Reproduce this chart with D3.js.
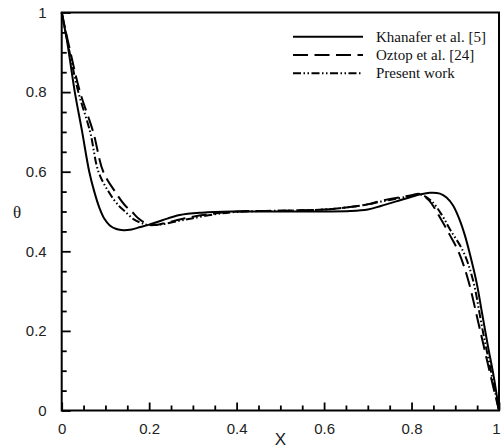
<!DOCTYPE html>
<html>
<head>
<meta charset="utf-8">
<script src="https://cdn.jsdelivr.net/npm/d3@7"></script>
<style>
  html, body { margin: 0; padding: 0; background: #fff; }
  svg { display: block; }
</style>
</head>
<body>
<script>
// Temperature profile θ along X for three studies
const khanaferX = [0, 0.012, 0.03, 0.046, 0.063, 0.075, 0.086, 0.098, 0.11, 0.125, 0.141, 0.16, 0.18, 0.2, 0.23, 0.27, 0.32, 0.39, 0.5, 0.6, 0.66, 0.7, 0.73, 0.77, 0.8, 0.82, 0.842, 0.865, 0.88, 0.895, 0.91, 0.922, 0.933, 0.949, 0.962, 0.975, 0.988, 1.0];
const khanaferY = [1.0, 0.93, 0.80, 0.705, 0.60, 0.548, 0.51, 0.481, 0.465, 0.456, 0.453, 0.455, 0.461, 0.467, 0.478, 0.491, 0.497, 0.500, 0.500, 0.500, 0.501, 0.505, 0.514, 0.527, 0.537, 0.543, 0.547, 0.545, 0.535, 0.515, 0.479, 0.44, 0.395, 0.32, 0.24, 0.16, 0.085, 0.0];

const oztopX = [0, 0.02, 0.042, 0.072, 0.095, 0.122, 0.145, 0.16, 0.175, 0.19, 0.21, 0.24, 0.27, 0.3, 0.35, 0.4, 0.5, 0.6, 0.65, 0.7, 0.73, 0.77, 0.8, 0.819, 0.84, 0.865, 0.888, 0.907, 0.929, 0.956, 0.983, 1.0];
const oztopY = [1.0, 0.90, 0.80, 0.70, 0.60, 0.55, 0.515, 0.50, 0.483, 0.472, 0.466, 0.472, 0.48, 0.487, 0.495, 0.500, 0.502, 0.505, 0.510, 0.518, 0.527, 0.535, 0.541, 0.544, 0.528, 0.485, 0.44, 0.40, 0.33, 0.205, 0.077, 0.0];

const presentX = [0, 0.02, 0.038, 0.065, 0.084, 0.107, 0.13, 0.145, 0.165, 0.185, 0.2, 0.23, 0.27, 0.3, 0.35, 0.4, 0.5, 0.6, 0.65, 0.7, 0.73, 0.77, 0.8, 0.82, 0.845, 0.87, 0.888, 0.918, 0.94, 0.962, 0.985, 1.0];
const presentY = [1.0, 0.89, 0.80, 0.70, 0.60, 0.55, 0.515, 0.50, 0.48, 0.47, 0.466, 0.468, 0.477, 0.483, 0.493, 0.499, 0.502, 0.505, 0.51, 0.518, 0.525, 0.533, 0.539, 0.543, 0.527, 0.49, 0.455, 0.40, 0.33, 0.205, 0.08, 0.0];

const seriesNames = ["Khanafer et al. [5]", "Oztop et al. [24]", "Present work"];
const tickLabels = ["0", "0.2", "0.4", "0.6", "0.8", "1"];
const majorTicks = [0, 0.2, 0.4, 0.6, 0.8, 1];
const minorTicks = d3.range(0, 1.0001, 0.05).filter(v => Math.abs(v * 5 - Math.round(v * 5)) > 1e-6);

const W = 502, H = 448;
const margin = { left: 61.7, right: 3, top: 12.5, bottom: 37.5 };

const svg = d3.select("body").append("svg").attr("width", W).attr("height", H);

const x = d3.scaleLinear().domain([0, 1]).range([margin.left, W - margin.right]);
const y = d3.scaleLinear().domain([0, 1]).range([H - margin.bottom, margin.top]);

const series = [
  { name: seriesNames[0], xs: khanaferX, ys: khanaferY, dash: null },
  { name: seriesNames[1], xs: oztopX, ys: oztopY, dash: "15 6.5" },
  { name: seriesNames[2], xs: presentX, ys: presentY, dash: "8 2.5 1.5 2.5 1.5 2.5" }
];

const line = d3.line()
  .x(d => x(d[0]))
  .y(d => y(d[1]))
  .curve(d3.curveCatmullRom.alpha(0.5));

const plot = svg.append("g");
series.forEach(s => {
  plot.append("path")
    .datum(s.xs.map((v, i) => [v, s.ys[i]]))
    .attr("d", line)
    .attr("fill", "none")
    .attr("stroke", "#000")
    .attr("stroke-width", 2)
    .attr("stroke-dasharray", s.dash);
});

// Axes with inward major and minor ticks
const tickFmt = d => tickLabels[majorTicks.findIndex(t => Math.abs(t - d) < 1e-9)];

const xMajor = d3.axisBottom(x).tickValues(majorTicks).tickSizeInner(-8).tickSizeOuter(0).tickPadding(13).tickFormat(tickFmt);
const xMinor = d3.axisBottom(x).tickValues(minorTicks).tickSizeInner(-5).tickSizeOuter(0).tickFormat("");
const yMajor = d3.axisLeft(y).tickValues(majorTicks).tickSizeInner(-9).tickSizeOuter(0).tickPadding(15).tickFormat(tickFmt);
const yMinor = d3.axisLeft(y).tickValues(minorTicks).tickSizeInner(-5).tickSizeOuter(0).tickFormat("");

function styleAxis(g) {
  g.select(".domain").remove();
  g.selectAll(".tick line").attr("stroke", "#000").attr("stroke-width", 1.8);
  g.selectAll(".tick text")
    .attr("font-family", "'Liberation Sans', Arial, sans-serif")
    .attr("font-size", 15)
    .attr("fill", "#222");
}

const yBase = y(0);
svg.append("g").attr("transform", `translate(0,${yBase})`).call(xMinor).call(styleAxis);
const xg = svg.append("g").attr("transform", `translate(0,${yBase})`).call(xMajor).call(styleAxis);
// keep the last label inside the page edge
xg.selectAll(".tick text").filter(d => d === 1).attr("dx", -3);
svg.append("g").attr("transform", `translate(${x(0)},0)`).call(yMinor).call(styleAxis);
svg.append("g").attr("transform", `translate(${x(0)},0)`).call(yMajor).call(styleAxis);

// Plot frame
svg.append("rect")
  .attr("x", x(0)).attr("y", y(1))
  .attr("width", x(1) - x(0)).attr("height", y(0) - y(1))
  .attr("fill", "none").attr("stroke", "#000").attr("stroke-width", 2);

// Axis titles
svg.append("text")
  .attr("x", (x(0) + x(1)) / 2).attr("y", 445)
  .attr("text-anchor", "middle")
  .attr("font-family", "'Liberation Sans', Arial, sans-serif")
  .attr("font-size", 17)
  .attr("fill", "#222")
  .text("X");

svg.append("text")
  .attr("x", 17).attr("y", (y(0) + y(1)) / 2 + 6)
  .attr("text-anchor", "middle")
  .attr("font-family", "'Liberation Serif', 'Times New Roman', serif")
  .attr("font-size", 17)
  .attr("fill", "#222")
  .text("θ");

// Legend
const legend = svg.append("g");
series.forEach((s, i) => {
  const cy = 36.7 + i * 18.3;
  legend.append("line")
    .attr("x1", 293).attr("x2", 363)
    .attr("y1", cy).attr("y2", cy)
    .attr("stroke", "#000").attr("stroke-width", 2)
    .attr("stroke-dasharray", s.dash);
  legend.append("text")
    .attr("x", 376).attr("y", cy + 5)
    .attr("font-family", "'Liberation Serif', 'Times New Roman', serif")
    .attr("font-size", 15)
    .attr("fill", "#111")
    .text(s.name);
});
</script>
</body>
</html>
